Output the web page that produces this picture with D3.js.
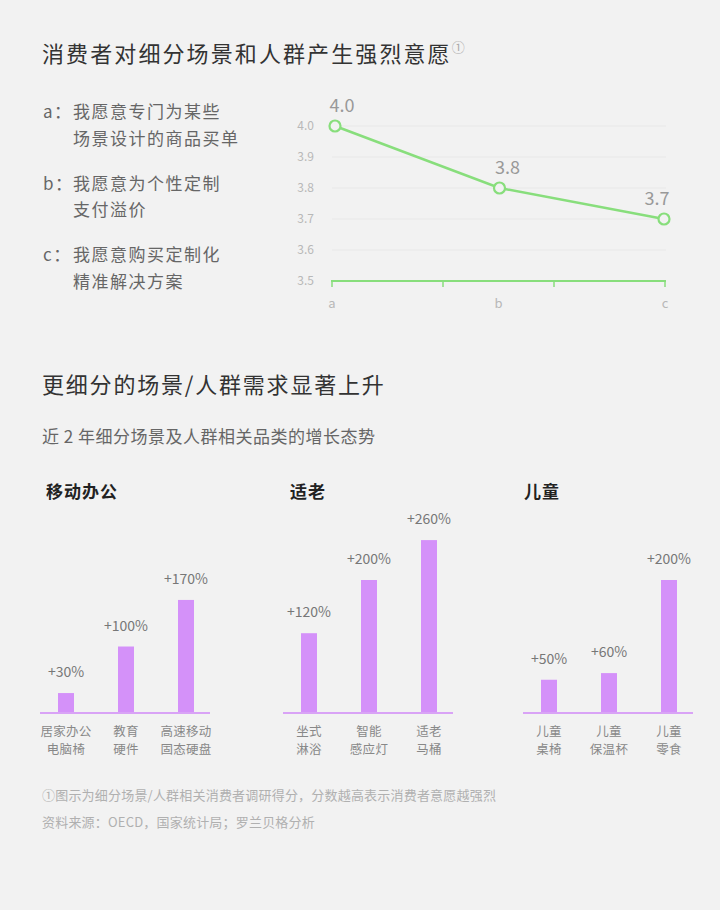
<!DOCTYPE html>
<html>
<head>
<meta charset="utf-8">
<script src="https://cdn.jsdelivr.net/npm/d3@7"></script>
<style>
  html, body { margin: 0; padding: 0; background: #f2f2f2; }
  svg { display: block; font-family: "Noto Sans CJK SC", "Noto Sans", sans-serif; }
</style>
</head>
<body>
<svg id="chart" width="720" height="910"></svg>
<script>
// DATA
const scoreKeys = ['a', 'b', 'c'];
const scoreValues = [4.0, 3.8, 3.7];
const scoreTicks = [3.5, 3.6, 3.7, 3.8, 3.9, 4.0];
const statements = [
  ['a：', '我愿意专门为某些', '场景设计的商品买单'],
  ['b：', '我愿意为个性定制', '支付溢价'],
  ['c：', '我愿意购买定制化', '精准解决方案'],
];

const groupNames = ['移动办公', '适老', '儿童'];
const groupItems = [
  [['居家办公', '电脑椅'], ['教育', '硬件'], ['高速移动', '固态硬盘']],
  [['坐式', '淋浴'], ['智能', '感应灯'], ['适老', '马桶']],
  [['儿童', '桌椅'], ['儿童', '保温杯'], ['儿童', '零食']],
];
const groupGrowth = [
  [30, 100, 170],
  [120, 200, 260],
  [50, 60, 200],
];

const footnotes = [
  '①图示为细分场景/人群相关消费者调研得分，分数越高表示消费者意愿越强烈',
  '资料来源：OECD，国家统计局；罗兰贝格分析',
];

// COLORS
const green = '#88de7c';
const purple = '#d491f9';
const bg = '#f2f2f2';

const svg = d3.select('#chart');

// TITLES
svg.append('text')
  .attr('x', 42).attr('y', 62)
  .attr('font-size', 22).attr('letter-spacing', 2.1)
  .attr('fill', '#333')
  .text('消费者对细分场景和人群产生强烈意愿')
  .append('tspan')
  .attr('font-size', 13).attr('dy', -10).attr('fill', '#aaa')
  .text('①');

svg.append('text')
  .attr('x', 42).attr('y', 393)
  .attr('font-size', 22).attr('letter-spacing', 1.8)
  .attr('fill', '#333')
  .text('更细分的场景/人群需求显著上升');

svg.append('text')
  .attr('x', 42).attr('y', 443)
  .attr('font-size', 17).attr('letter-spacing', 0.5)
  .attr('fill', '#666')
  .text('近 2 年细分场景及人群相关品类的增长态势');

// STATEMENTS (left side)
const stmt = svg.append('g').attr('fill', '#666').attr('font-size', 17).attr('letter-spacing', 1.5);
statements.forEach((s, i) => {
  const y0 = 118 + i * 71.5;
  stmt.append('text').attr('x', 43).attr('y', y0).text(s[0]);
  stmt.append('text').attr('x', 73).attr('y', y0).text(s[1]);
  stmt.append('text').attr('x', 73).attr('y', y0 + 26.5).text(s[2]);
});

// LINE CHART
const x = d3.scaleLinear().domain([0, scoreKeys.length - 1]).range([335, 664]);
const y = d3.scaleLinear().domain([3.5, 4.0]).range([281, 126]);

const lineG = svg.append('g');

lineG.selectAll('line.grid')
  .data(scoreTicks.slice(1))
  .join('line')
  .attr('class', 'grid')
  .attr('x1', 332).attr('x2', 666)
  .attr('y1', (d) => y(d)).attr('y2', (d) => y(d))
  .attr('stroke', '#e8e8e8').attr('stroke-width', 1);

lineG.selectAll('text.ytick')
  .data(scoreTicks)
  .join('text')
  .attr('class', 'ytick')
  .attr('x', 314).attr('y', (d) => y(d) + 4)
  .attr('text-anchor', 'end')
  .attr('font-size', 12).attr('fill', '#b8b8b8')
  .text(d3.format('.1f'));

// baseline with ticks
lineG.append('line')
  .attr('x1', 331).attr('x2', 666)
  .attr('y1', y(3.5)).attr('y2', y(3.5))
  .attr('stroke', green).attr('stroke-width', 2);

const tickScale = d3.scaleLinear().domain([0, 3]).range([332, 665]);
lineG.selectAll('line.xtick')
  .data(d3.range(4))
  .join('line')
  .attr('class', 'xtick')
  .attr('x1', (d) => tickScale(d)).attr('x2', (d) => tickScale(d))
  .attr('y1', y(3.5)).attr('y2', y(3.5) + 6)
  .attr('stroke', green).attr('stroke-width', 1.5);

lineG.selectAll('text.xlab')
  .data(scoreKeys)
  .join('text')
  .attr('class', 'xlab')
  .attr('x', (d, i) => tickScale(i * 1.5)).attr('y', 308)
  .attr('text-anchor', 'middle')
  .attr('font-size', 13).attr('fill', '#b8b8b8')
  .text((d) => d);

const line = d3.line().x((d, i) => x(i)).y((d) => y(d));
lineG.append('path')
  .datum(scoreValues)
  .attr('d', line)
  .attr('fill', 'none')
  .attr('stroke', green).attr('stroke-width', 2.5);

lineG.selectAll('circle')
  .data(scoreValues)
  .join('circle')
  .attr('cx', (d, i) => x(i)).attr('cy', (d) => y(d))
  .attr('r', 5.5)
  .attr('fill', bg)
  .attr('stroke', green).attr('stroke-width', 2.2);

const labelShift = [7, 8, -7];
lineG.selectAll('text.val')
  .data(scoreValues)
  .join('text')
  .attr('class', 'val')
  .attr('x', (d, i) => x(i) + labelShift[i]).attr('y', (d) => y(d) - 14)
  .attr('text-anchor', 'middle')
  .attr('font-size', 18).attr('fill', '#999')
  .text(d3.format('.1f'));

// BAR CHARTS
const groupX = [40, 283, 523];
const titleX = [6, 7, 1];
const baseY = 713;
const barY = d3.scaleLinear().domain([0, 100]).range([baseY, baseY - 66.5]);

groupNames.forEach((name, gi) => {
  const g = svg.append('g').attr('transform', `translate(${groupX[gi]},0)`);
  const bx = d3.scalePoint()
    .domain(d3.range(groupItems[gi].length))
    .range([26, 146]);

  g.append('text')
    .attr('x', titleX[gi]).attr('y', 498)
    .attr('font-size', 17).attr('font-weight', 700).attr('letter-spacing', 1)
    .attr('fill', '#222')
    .text(name);

  g.selectAll('rect')
    .data(groupGrowth[gi])
    .join('rect')
    .attr('x', (d, i) => bx(i) - 8)
    .attr('width', 16)
    .attr('y', (d) => barY(d))
    .attr('height', (d) => baseY - barY(d))
    .attr('fill', purple);

  g.append('line')
    .attr('x1', 0).attr('x2', 170)
    .attr('y1', baseY).attr('y2', baseY)
    .attr('stroke', '#d9a3f6').attr('stroke-width', 2);

  g.selectAll('text.val')
    .data(groupGrowth[gi])
    .join('text')
    .attr('class', 'val')
    .attr('x', (d, i) => bx(i)).attr('y', (d) => barY(d) - 16)
    .attr('text-anchor', 'middle')
    .attr('font-size', 14).attr('fill', '#777')
    .text((d) => `+${d}%`);

  groupItems[gi].forEach((lines, i) => {
    lines.forEach((t, k) => {
      g.append('text')
        .attr('x', bx(i)).attr('y', 735.5 + k * 18.2)
        .attr('text-anchor', 'middle')
        .attr('font-size', 12.5).attr('letter-spacing', 0.3).attr('fill', '#888')
        .text(t);
    });
  });
});

// FOOTNOTES
svg.selectAll('text.foot')
  .data(footnotes)
  .join('text')
  .attr('class', 'foot')
  .attr('x', 42).attr('y', (d, i) => 800 + i * 27)
  .attr('font-size', 13).attr('letter-spacing', 0.2).attr('fill', '#b0b0b0')
  .text((d) => d);
</script>
</body>
</html>
